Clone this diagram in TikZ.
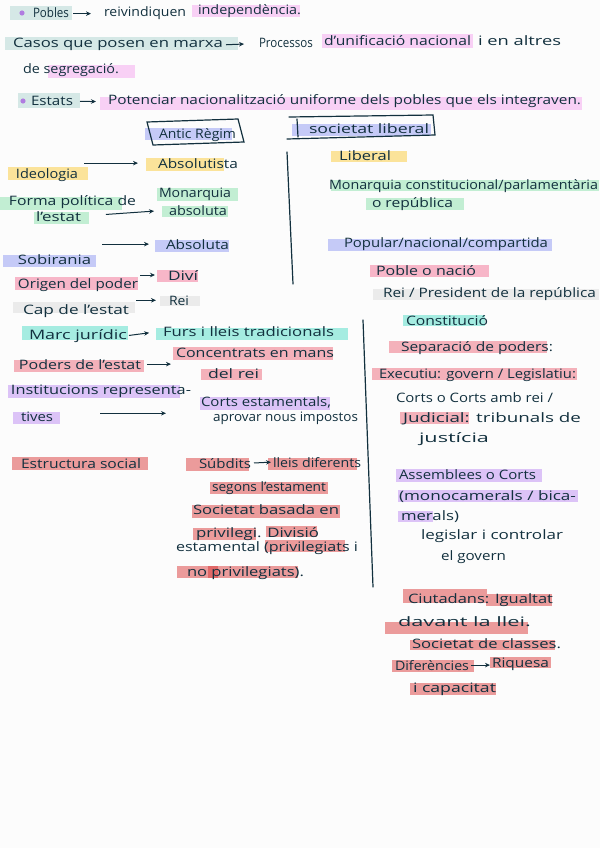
\documentclass[tikz,border=0pt]{standalone}
\usepackage{fontspec}
\usepackage{graphicx}
\setmainfont{Open Sans}
\usetikzlibrary{arrows.meta}
\definecolor{ink}{HTML}{12303E}
\definecolor{paper}{HTML}{FCFCFC}
\definecolor{hteal}{HTML}{D5E8E6}
\definecolor{hpinkl}{HTML}{F8D0F5}
\definecolor{hbullet}{HTML}{B07CE0}
\definecolor{hblue}{HTML}{C5CAF7}
\definecolor{hyellow}{HTML}{FBE39A}
\definecolor{hgreen}{HTML}{C2EED3}
\definecolor{hpink}{HTML}{F7B6C8}
\definecolor{hgray}{HTML}{EBEBEB}
\definecolor{haqua}{HTML}{A5ECE1}
\definecolor{hsalmon}{HTML}{F4B1BA}
\definecolor{hlilac}{HTML}{DCC3F7}
\definecolor{hred}{HTML}{EB9B9B}
\definecolor{hredd}{HTML}{E06868}
\newlength\fitlen
\newcommand\fitto[2]{\settowidth{\fitlen}{#2}\pgfmathsetmacro\fitr{#1/\fitlen}\scalebox{\fitr}[1]{#2}}
\tikzset{
  txt/.style={anchor=base west,inner sep=0pt,outer sep=1pt,text=ink,font=\fontsize{13}{15}\selectfont},
  arr/.style={draw=ink,line width=1pt,-{Stealth[length=5pt,width=4.5pt]}},
  pen/.style={draw=ink,line width=1.2pt,line cap=round},
}
\begin{document}
\begin{tikzpicture}[x=1pt,y=-1pt]
\fill[paper] (0,0) rectangle (600,848);
\useasboundingbox (0,0) rectangle (600,848);
% ---------- highlights ----------
\fill[hteal] (10,6) rectangle (72,20);
\fill[hpinkl] (192,5) rectangle (300,17);
\fill[hteal] (5,37) rectangle (238,50);
\fill[hpinkl] (322,34) rectangle (473,48);
\fill[hpinkl] (48,65) rectangle (135,78);
\fill[hteal] (18,93) rectangle (80,108);
\fill[hpinkl] (100,97) rectangle (582,110);
\fill[hblue] (145,128) rectangle (232,140);
\fill[hblue] (292,124) rectangle (431,136);
\fill[hyellow] (8,167) rectangle (88,180);
\fill[hyellow] (146,158) rectangle (224,171);
\fill[hgreen] (0,197) rectangle (122,210);
\fill[hgreen] (34,212) rectangle (89,224);
\fill[hgreen] (157,188) rectangle (238,201);
\fill[hgreen] (162,206) rectangle (228,217);
\fill[hblue] (155,240) rectangle (229,252);
\fill[hblue] (3,255) rectangle (96,267);
\fill[hpink] (15,277) rectangle (138,290);
\fill[hpink] (157,270) rectangle (198,282);
\fill[hgray] (13,302) rectangle (135,313);
\fill[hgray] (160,296) rectangle (200,306);
\fill[haqua] (22,326) rectangle (128,340);
\fill[haqua] (156,328) rectangle (348,340);
\fill[hsalmon] (14,360) rectangle (144,372);
\fill[hsalmon] (173,347) rectangle (333,360);
\fill[hsalmon] (201,369) rectangle (262,380);
\fill[hlilac] (8,385) rectangle (180,398);
\fill[hlilac] (13,412) rectangle (60,424);
\fill[hlilac] (200,397) rectangle (330,410);
\fill[hred] (12,457) rectangle (148,470);
\fill[hred] (186,458) rectangle (249,471);
\fill[hred] (268,458) rectangle (357,470);
\fill[hred] (210,482) rectangle (328,494);
\fill[hred] (192,505) rectangle (340,518);
\fill[hred] (193,528) rectangle (256,540);
\fill[hred] (266,526) rectangle (317,537);
\fill[hred] (265,540) rectangle (345,552);
\fill[hred] (177,566) rectangle (298,578);
\fill[hredd] (208,566) rectangle (218,578);
\fill[hyellow] (331,151) rectangle (407,162);
\fill[hgreen] (331,180) rectangle (599,191);
\fill[hgreen] (366,198) rectangle (464,210);
\fill[hblue] (328,239) rectangle (552,251);
\fill[hpink] (370,265) rectangle (489,277);
\fill[hgray] (373,289) rectangle (599,300);
\fill[haqua] (403,315) rectangle (485,326);
\fill[hsalmon] (389,341) rectangle (547,353);
\fill[hsalmon] (372,368) rectangle (577,380);
\fill[hsalmon] (400,412) rectangle (469,424);
\fill[hlilac] (396,469) rectangle (542,482);
\fill[hlilac] (398,490) rectangle (578,502);
\fill[hlilac] (398,511) rectangle (433,522);
\fill[hred] (403,589) rectangle (487,603);
\fill[hred] (486,594) rectangle (552,606);
\fill[hred] (385,622) rectangle (528,634);
\fill[hred] (410,640) rectangle (555,650);
\fill[hred] (392,660) rectangle (474,672);
\fill[hred] (490,657) rectangle (551,668);
\fill[hred] (410,683) rectangle (496,695);
% bullets
\fill[hbullet] (22,13) circle (2.6);
\fill[hbullet] (23,101) circle (2.6);
% ---------- top text ----------
\node[txt] (pobles) at (32,18) {\fitto{36}{Pobles}};
\node[txt] (reiv) at (103,17) {\fitto{82}{reivindiquen}};
\node[txt] (indep) at (197,15) {\fitto{103}{independència.}};
\draw[arr,shorten <=3pt,shorten >=12pt] (pobles.east |- reiv.west) -- (reiv.west);
\node[txt] (casos) at (12,48) {\fitto{210}{Casos que posen en marxa}};
\node[txt] (proc) at (258,48) {\fitto{54}{Processos}};
\draw[arr,shorten <=2pt,shorten >=14pt] (casos.east) -- (proc.west);
\node[txt] (unif) at (323,46) {\fitto{147}{d'unificació nacional}};
\node[txt] (altres) at (477,46) {\fitto{83}{i en altres}};
\node[txt] (segr) at (22,74) {\fitto{96}{de segregació.}};
\node[txt] (estats) at (30,106) {\fitto{42}{Estats}};
\node[txt] (pot) at (107,105) {\fitto{473}{Potenciar nacionalització uniforme dels pobles que els integraven.}};
\draw[arr,shorten <=6pt,shorten >=11pt] (estats.east) -- (pot.west);
% ---------- headers ----------
\node[txt] (antic) at (158,139) {\fitto{77}{Antic Règim}};
\draw[pen] (147,122) -- (238,119) -- (244,142) -- (153,145) -- cycle;
\node[txt] (socl) at (308,134) {\fitto{120}{societat liberal}};
\draw[pen] (289,117) -- (433,115) -- (435,135) -- (287,139);
\draw[pen] (297,119) -- (298,137);
\draw[pen] (287,152) -- (293,284);
\draw[pen] (363,320) -- (373,587);
% ---------- left column ----------
\node[txt] (ideo) at (15,178) {\fitto{62}{Ideologia}};
\node[txt] (absta) at (157,168) {\fitto{80}{Absolutista}};
\draw[arr,shorten <=5pt,shorten >=19pt] (ideo.east |- absta.west) -- (absta.west);
\node[txt] (forma) at (8,205) {\fitto{127}{Forma política de}};
\node[txt] (lest) at (35,221) {\fitto{45}{l'estat}};
\node[txt] (monab) at (158,197) {\fitto{72}{Monarquia}};
\node[txt] (monab2) at (168,215) {\fitto{58}{absoluta}};
\draw[arr,shorten <=24pt,shorten >=14pt] (lest.east) -- (monab2.west);
\node[txt] (sob) at (17,264) {\fitto{73}{Sobirania}};
\node[txt] (absa) at (165,249) {\fitto{63}{Absoluta}};
\draw[arr,shorten <=10pt,shorten >=16pt] (sob.east |- absa.west) -- (absa.west);
\node[txt] (orig) at (17,288) {\fitto{120}{Origen del poder}};
\node[txt] (divi) at (167,280) {\fitto{30}{Diví}};
\draw[arr,shorten <=1pt,shorten >=12pt] (orig.east |- divi.west) -- (divi.west);
\node[txt] (cap) at (22,314) {\fitto{106}{Cap de l'estat}};
\node[txt] (rei) at (168,305) {\fitto{20}{Rei}};
\draw[arr,shorten <=6pt,shorten >=12pt] (cap.east |- rei.west) -- (rei.west);
\node[txt] (marc) at (28,339) {\fitto{98}{Marc jurídic}};
\node[txt] (furs) at (162,336) {\fitto{171}{Furs i lleis tradicionals}};
\draw[arr,shorten <=1pt,shorten >=13pt] (marc.east) -- (furs.west);
\node[txt] (poders) at (18,369) {\fitto{122}{Poders de l'estat}};
\node[txt] (conc) at (175,357) {\fitto{158}{Concentrats en mans}};
\node[txt] (delrei) at (207,378) {\fitto{51}{del rei}};
\draw[arr,shorten <=5pt,shorten >=4pt] (poders.east) -- (poders.east -| conc.west);
\node[txt] (inst) at (10,394) {\fitto{180}{Institucions representa-}};
\node[txt] (tives) at (20,421) {\fitto{32}{tives}};
\node[txt] (corts) at (200,406) {\fitto{130}{Corts estamentals,}};
\node[txt] (aprov) at (212,421) {\fitto{145}{aprovar nous impostos}};
\draw[arr,shorten <=46pt,shorten >=34pt] ([yshift=3pt]tives.east) -- ([yshift=3pt]tives.east -| corts.west);
\node[txt] (estr) at (20,468) {\fitto{120}{Estructura social}};
\node[txt] (subd) at (198,468) {\fitto{52}{Súbdits}};
\node[txt] (lleis) at (272,467) {\fitto{88}{lleis diferents}};
\draw[arr,shorten <=2pt,shorten >=1pt] (subd.east) -- (lleis.west);
\node[txt] (segons) at (211,491) {\fitto{114}{segons l'estament}};
\node[txt] (soc) at (192,514) {\fitto{146}{Societat basada en}};
\node[txt] (priv) at (195,537) {\fitto{123}{privilegi. Divisió}};
\node[txt] (estam) at (175,551) {\fitto{182}{estamental (privilegiats i}};
\node[txt] (nopriv) at (186,576) {\fitto{117}{no privilegiats).}};
% ---------- right column ----------
\node[txt] (lib) at (338,160) {\fitto{52}{Liberal}};
\node[txt] (moncon) at (328,189) {\fitto{269}{Monarquia constitucional/parlamentària}};
\node[txt] (orep) at (371,207) {\fitto{81}{o república}};
\node[txt] (popu) at (343,247) {\fitto{204}{Popular/nacional/compartida}};
\node[txt] (poble) at (375,275) {\fitto{100}{Poble o nació}};
\node[txt] (pres) at (382,297) {\fitto{213}{Rei / President de la república}};
\node[txt] (const) at (405,325) {\fitto{82}{Constitució}};
\node[txt] (sep) at (400,351) {\fitto{152}{Separació de poders:}};
\node[txt] (exec) at (378,378) {\fitto{197}{Executiu: govern / Legislatiu:}};
\node[txt] (cortsr) at (395,402) {\fitto{157}{Corts o Corts amb rei /}};
\node[txt] (jud) at (402,422) {\fitto{178}{Judicial: tribunals de}};
\node[txt] (just) at (418,442) {\fitto{70}{justícia}};
\node[txt] (assem) at (398,479) {\fitto{137}{Assemblees o Corts}};
\node[txt] (mono) at (398,500) {\fitto{177}{(monocamerals / bica-}};
\node[txt] (mer) at (400,520) {\fitto{58}{merals)}};
\node[txt] (legis) at (420,539) {\fitto{142}{legislar i controlar}};
\node[txt] (elgov) at (440,560) {\fitto{65}{el govern}};
\node[txt] (ciut) at (407,603) {\fitto{145}{Ciutadans: Igualtat}};
\node[txt] (davant) at (397,626) {\fitto{133}{davant la llei.}};
\node[txt] (socc) at (411,648) {\fitto{149}{Societat de classes.}};
\node[txt] (dif) at (394,670) {\fitto{74}{Diferències}};
\node[txt] (riq) at (491,667) {\fitto{57}{Riquesa}};
\draw[arr,shorten <=1pt,shorten >=1pt] (dif.east) -- (dif.east -| riq.west);
\node[txt] (capac) at (412,692) {\fitto{83}{i capacitat}};
\end{tikzpicture}
\end{document}
